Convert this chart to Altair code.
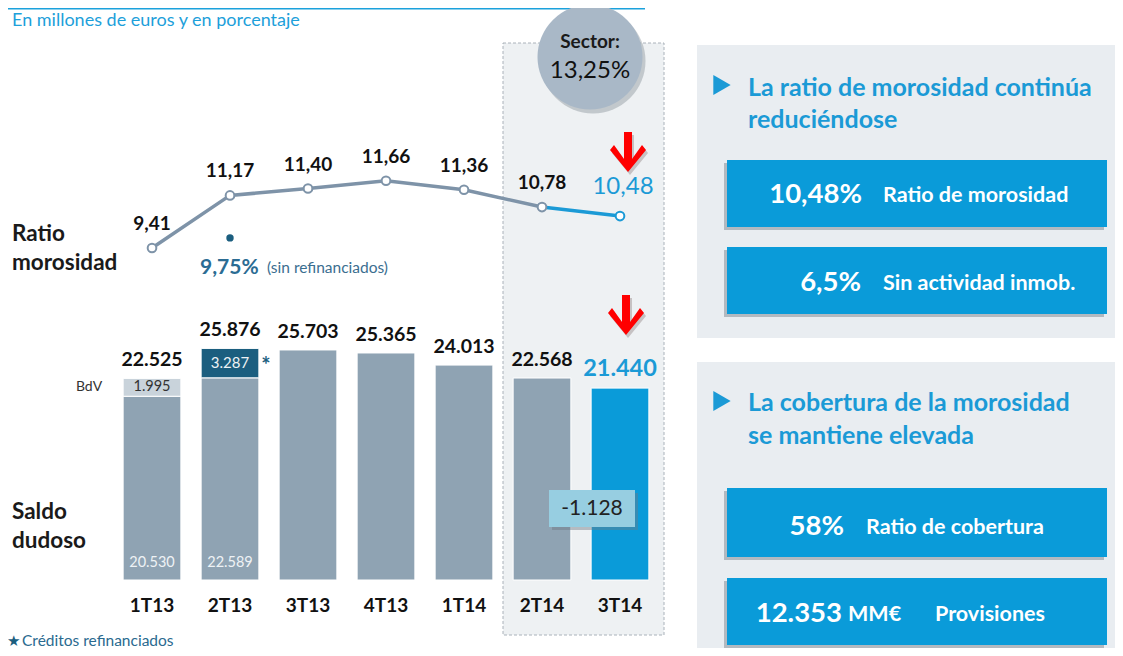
import altair as alt
import pandas as pd

FONT = "Lato"

# ---------------- data ----------------
cats = ["1T13", "2T13", "3T13", "4T13", "1T14", "2T14", "3T14"]
bar_totals = [22525, 25876, 25703, 25365, 24013, 22568, 21440]
bar_total_labels = ["22.525", "25.876", "25.703", "25.365", "24.013", "22.568", "21.440"]
bdv_1t13 = 1995          # BdV part of 1T13
refin_2t13 = 3287        # refinanced credits in 2T13
bdv_label = "1.995"
refin_label = "3.287"
base_labels = {"1T13": "20.530", "2T13": "22.589"}

ratio = [9.41, 11.17, 11.40, 11.66, 11.36, 10.78, 10.48]
ratio_labels = ["9,41", "11,17", "11,40", "11,66", "11,36", "10,78", "10,48"]
sin_refin = 9.75

GRAY = "#8fa3b3"
BLUE = "#0a9bd9"
DARK = "#1b5e7f"
LIGHT = "#c9d3db"
LINE_GRAY = "#7e93a8"
HEAD_BLUE = "#1b9ad6"

# ---------------- tables ----------------
seg_rows = []
for c, tot in zip(cats, bar_totals):
    if c == "1T13":
        seg_rows += [(c, 0, tot - bdv_1t13, GRAY), (c, tot - bdv_1t13, tot, LIGHT)]
    elif c == "2T13":
        seg_rows += [(c, 0, tot - refin_2t13, GRAY), (c, tot - refin_2t13, tot, DARK)]
    else:
        seg_rows.append((c, 0, tot, BLUE if c == "3T14" else GRAY))
segs = pd.DataFrame(seg_rows, columns=["cat", "y0", "y1", "fill"])

totals = pd.DataFrame({"cat": cats, "v": bar_totals, "t": bar_total_labels})
ratios = pd.DataFrame({"cat": cats, "r": ratio, "t": ratio_labels,
                       "sc": [LINE_GRAY] * 6 + [HEAD_BLUE]})

X_SCALE = alt.Scale(domain=cats, range=[105, 651], paddingInner=0.26, paddingOuter=0.13)
BAR_Y = alt.Scale(domain=[0, 30000], range=[572, 303.5], nice=False, zero=True)
RAT_Y = alt.Scale(domain=[9, 12], range=[252.3, 162.6], nice=False, zero=False)


def X():
    return alt.X("cat:N", scale=X_SCALE, axis=None, sort=cats)


def box(x, y, x2, y2, **kw):
    df = pd.DataFrame({"x": [x], "y": [y], "x2": [x2], "y2": [y2]})
    return alt.Chart(df).mark_rect(**kw).encode(
        x=alt.X("x:Q", scale=None, axis=None), x2="x2",
        y=alt.Y("y:Q", scale=None, axis=None), y2="y2")


def ann(rows, **kw):
    df = pd.DataFrame(rows, columns=["x", "y", "t"])
    return alt.Chart(df).mark_text(**kw).encode(
        x=alt.X("x:Q", scale=None, axis=None),
        y=alt.Y("y:Q", scale=None, axis=None), text="t:N")


def sym(rows, **kw):
    df = pd.DataFrame(rows, columns=["x", "y"])
    return alt.Chart(df).mark_point(**kw).encode(
        x=alt.X("x:Q", scale=None, axis=None),
        y=alt.Y("y:Q", scale=None, axis=None))


layers = []

# background decorations
layers.append(alt.Chart(pd.DataFrame({"a": [0]})).mark_rule(color="#1ba1dc", strokeWidth=1.5).encode(
    x=alt.value(0), x2=alt.value(637), y=alt.value(0.75)))
layers.append(box(495, 35, 656, 627, fill="#eef1f3", stroke="#aab2ba", strokeDash=[3, 2], strokeWidth=1))
layers.append(box(689, 37, 1107, 330, fill="#e9edf1"))
layers.append(box(689, 354, 1107, 640, fill="#e9edf1"))
for (bx, by, bx2, by2) in [(719, 152, 1099, 219), (719, 239, 1099, 306),
                           (719, 480, 1099, 549), (719, 570, 1099, 637)]:
    layers.append(box(bx - 3, by + 3, bx2 - 3, by2 + 3, fill="#6f7a84", opacity=0.45))
    layers.append(box(bx, by, bx2, by2, fill=BLUE))

# sector circle
layers.append(sym([(585, 53)], shape="circle", filled=True, size=11025, color="#6f7a84", opacity=0.35))
layers.append(sym([(582, 49)], shape="circle", filled=True, size=11025, color="#a9b8c7", opacity=1))
layers.append(ann([(582, 34, "Sector:")], fontSize=19, fontWeight="bold", color="#1a1a1a", font=FONT))
layers.append(ann([(582, 63, "13,25%")], fontSize=24, color="#111111", font=FONT))

# bars
layers.append(alt.Chart(segs).mark_bar(stroke="white", strokeWidth=1).encode(
    x=X(),
    y=alt.Y("y1:Q", scale=BAR_Y, axis=None), y2="y0",
    fill=alt.Fill("fill:N", scale=None)))

# bar labels
layers.append(alt.Chart(totals[totals.cat != "3T14"]).mark_text(
    fontSize=19.5, fontWeight="bold", color="#111111", dy=-18, font=FONT).encode(
    x=X(), y=alt.Y("v:Q", scale=BAR_Y, axis=None), text="t:N"))
layers.append(alt.Chart(totals[totals.cat == "3T14"]).mark_text(
    fontSize=23.5, fontWeight="bold", color=HEAD_BLUE, dy=-19, font=FONT).encode(
    x=X(), y=alt.Y("v:Q", scale=BAR_Y, axis=None), text="t:N"))

base_df = pd.DataFrame({"cat": list(base_labels.keys()), "v": [0, 0], "t": list(base_labels.values())})
layers.append(alt.Chart(base_df).mark_text(fontSize=14.5, color="#eef2f5", dy=-17, font=FONT).encode(
    x=X(), y=alt.Y("v:Q", scale=BAR_Y, axis=None), text="t:N"))

bdv_df = pd.DataFrame({"cat": ["1T13"], "v": [bar_totals[0] - bdv_1t13 / 2], "t": [bdv_label]})
layers.append(alt.Chart(bdv_df).mark_text(fontSize=14.5, color="#333333", font=FONT).encode(
    x=X(), y=alt.Y("v:Q", scale=BAR_Y, axis=None), text="t:N"))
bdv_tag = pd.DataFrame({"cat": ["1T13"], "v": [bar_totals[0] - bdv_1t13 / 2], "t": ["BdV"]})
layers.append(alt.Chart(bdv_tag).mark_text(fontSize=14, color="#333333", dx=-63, font=FONT).encode(
    x=X(), y=alt.Y("v:Q", scale=BAR_Y, axis=None), text="t:N"))

ref_df = pd.DataFrame({"cat": ["2T13"], "v": [bar_totals[1] - refin_2t13 / 2], "t": [refin_label]})
layers.append(alt.Chart(ref_df).mark_text(fontSize=15, color="#eef2f5", font=FONT).encode(
    x=X(), y=alt.Y("v:Q", scale=BAR_Y, axis=None), text="t:N"))
star_df = pd.DataFrame({"cat": ["2T13"], "v": [bar_totals[1] - refin_2t13 / 2], "t": ["*"]})
layers.append(alt.Chart(star_df).mark_text(fontSize=22, fontWeight="bold", color=DARK, dx=36, dy=3, font=FONT).encode(
    x=X(), y=alt.Y("v:Q", scale=BAR_Y, axis=None), text="t:N"))

# x labels
layers.append(alt.Chart(pd.DataFrame({"cat": cats})).mark_text(
    fontSize=19, fontWeight="bold", color="#111111", font=FONT).encode(
    x=X(), y=alt.value(598), text="cat:N"))

# variation box
layers.append(box(544, 485, 630, 522, fill="#6f7a84", opacity=0.45))
layers.append(box(541, 482, 627, 519, fill="#97cee1"))
layers.append(ann([(584, 501, "-1.128")], fontSize=21, color="#222222", font=FONT))

# ratio line
layers.append(alt.Chart(ratios.iloc[:6]).mark_line(color=LINE_GRAY, strokeWidth=3.5).encode(
    x=X(), y=alt.Y("r:Q", scale=RAT_Y, axis=None)))
layers.append(alt.Chart(ratios.iloc[5:]).mark_line(color=HEAD_BLUE, strokeWidth=3.5).encode(
    x=X(), y=alt.Y("r:Q", scale=RAT_Y, axis=None)))
layers.append(alt.Chart(ratios).mark_point(shape="circle", fill="white", fillOpacity=1, opacity=1,
                                           strokeWidth=2, size=75).encode(
    x=X(), y=alt.Y("r:Q", scale=RAT_Y, axis=None), stroke=alt.Stroke("sc:N", scale=None)))
layers.append(alt.Chart(ratios.iloc[:6]).mark_text(fontSize=19, fontWeight="bold", color="#111111",
                                                   dy=-24, font=FONT).encode(
    x=X(), y=alt.Y("r:Q", scale=RAT_Y, axis=None), text="t:N"))
layers.append(alt.Chart(ratios.iloc[6:]).mark_text(fontSize=24, color=HEAD_BLUE,
                                                   dx=3, dy=-29, font=FONT).encode(
    x=X(), y=alt.Y("r:Q", scale=RAT_Y, axis=None), text="t:N"))

sr = pd.DataFrame({"cat": ["2T13"], "r": [sin_refin]})
layers.append(alt.Chart(sr).mark_circle(size=55, color=DARK, opacity=1).encode(
    x=X(), y=alt.Y("r:Q", scale=RAT_Y, axis=None)))
layers.append(alt.Chart(sr.assign(t="9,75%")).mark_text(fontSize=21, fontWeight="bold", color="#2b6c93",
                                                        align="left", dx=-30, dy=30, font=FONT).encode(
    x=X(), y=alt.Y("r:Q", scale=RAT_Y, axis=None), text="t:N"))
layers.append(alt.Chart(sr.assign(t="(sin refinanciados)")).mark_text(fontSize=15.5, color="#3b6e90",
                                                                      align="left", dx=37, dy=30, font=FONT).encode(
    x=X(), y=alt.Y("r:Q", scale=RAT_Y, axis=None), text="t:N"))

# red arrows
ARROW = "M-0.2,-1 L0.2,-1 L0.2,0.35 L0.7,-0.35 L0.9,-0.1 L0,1 L-0.9,-0.1 L-0.7,-0.35 L-0.2,0.35 Z"
layers.append(sym([(622, 147), (620, 310)], shape=ARROW, filled=True, size=1600, color="#7a6a6a", opacity=0.35))
layers.append(sym([(620, 144), (618, 307)], shape=ARROW, filled=True, size=1600, color="#ff0000", opacity=1))

# left labels
layers.append(ann([(4, 226, "Ratio"), (4, 255, "morosidad"), (4, 504, "Saldo"), (4, 533, "dudoso")],
                  fontSize=22.5, fontWeight="bold", color="#1a1a1a", align="left", font=FONT))
# subtitle & footer
layers.append(ann([(4, 13, "En millones de euros y en porcentaje")], fontSize=18, color="#1da0da",
                  align="left", font=FONT))
layers.append(ann([(-1, 633, "★")], fontSize=15, color=DARK, align="left"))
layers.append(ann([(14, 633, "Créditos refinanciados")], fontSize=15.5, color="#2a6a8f", align="left", font=FONT))

# right panels
layers.append(sym([(714, 77), (714, 393)], shape="triangle-right", filled=True, size=400, color=HEAD_BLUE, opacity=1))
layers.append(ann([(740, 80, "La ratio de morosidad continúa"), (740, 112, "reduciéndose"),
                   (740, 395, "La cobertura de la morosidad"), (740, 428, "se mantiene elevada")],
                  fontSize=25, fontWeight="bold", color=HEAD_BLUE, align="left", font=FONT))
layers.append(ann([(854, 187, "10,48%"), (853, 275, "6,5%"), (836, 519, "58%"), (834, 606, "12.353")],
                  fontSize=27.5, fontWeight="bold", color="white", align="right", font=FONT))
layers.append(ann([(875, 188, "Ratio de morosidad"), (875, 276, "Sin actividad inmob."),
                   (858, 520, "Ratio de cobertura"), (840, 607, "MM€"), (927, 607, "Provisiones")],
                  fontSize=21.5, fontWeight="bold", color="white", align="left", font=FONT))

chart = alt.layer(*layers).resolve_scale(x="independent", y="independent").properties(
    width=1107, height=640, autosize=alt.AutoSizeParams(type="none"), padding=0
).configure(font=FONT, view=alt.ViewConfig(stroke=None))

chart.save("out.html", embed_options={"renderer": "svg", "actions": False})
